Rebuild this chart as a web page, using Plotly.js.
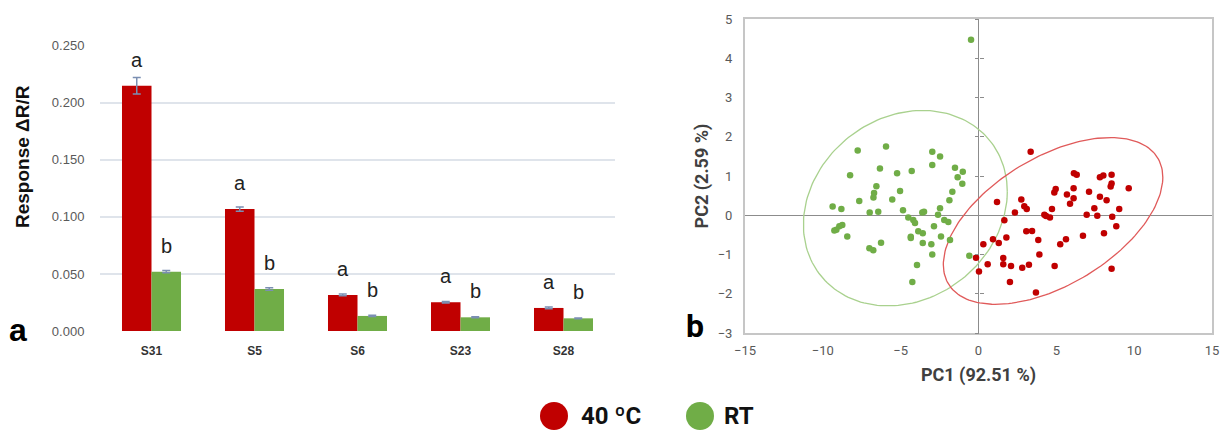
<!DOCTYPE html>
<html>
<head>
<meta charset="utf-8">
<script src="https://cdn.plot.ly/plotly-3.0.1.min.js"></script>
<style>html,body{margin:0;padding:0;background:#fff;}#chart{width:1227px;height:430px;}</style>
</head>
<body>
<div id="chart"></div>
<script>
// ---------- Panel a: bar chart data ----------
const sensors = ['S31', 'S5', 'S6', 'S23', 'S28'];
const resp40C = [0.2149, 0.1068, 0.0316, 0.0252, 0.0202];
const err40C  = [0.0073, 0.0018, 0.0008, 0.0007, 0.0008];
const respRT  = [0.0520, 0.0368, 0.0132, 0.0120, 0.0111];
const errRT   = [0.0010, 0.0012, 0.0005, 0.0004, 0.0004];
const letters40C = ['a', 'a', 'a', 'a', 'a'];
const lettersRT  = ['b', 'b', 'b', 'b', 'b'];
const yTicksA = [0, 0.05, 0.10, 0.15, 0.20, 0.25];

// ---------- Panel b: PCA scores ----------
const pc1_40C = [3.35, 6.13, 6.31, 7.80, 8.02, 8.55, 8.55, 8.49, 9.65, 4.96, 4.87, 6.11, 5.68, 7.10, 7.80, 8.23, 6.11, 5.88, 2.75, 1.19,
                 2.94, 3.10, 2.34, 4.72, 4.23, 4.34, 4.59, 7.44, 9.04, 6.95, 7.63, 8.59, 8.85, 8.06, 6.71, 5.62, 5.25, 1.66, 3.07, 3.44,
                 3.84, 3.91, 1.79, 0.93, 1.30, 0.31, -0.16, 1.59, 1.59, 0.59, 2.09, 2.81, 3.24, 4.89, 8.55, 0.03, 2.02, 3.69];
const pc2_40C = [1.62, 1.07, 1.03, 0.97, 1.01, 1.03, 0.81, 0.73, 0.69, 0.67, 0.58, 0.69, 0.53, 0.60, 0.47, 0.38, 0.43, 0.29, 0.40, 0.34,
                 0.23, 0.16, 0.07, 0.16, 0.01, -0.02, -0.06, 0.18, 0.16, 0.01, -0.01, -0.04, -0.28, -0.46, -0.52, -0.61, -0.74, -0.13, -0.41, -0.40,
                 -0.63, -1.00, -0.57, -0.61, -0.71, -0.74, -1.08, -1.09, -1.25, -1.25, -1.29, -1.34, -1.26, -1.29, -1.36, -1.43, -1.70, -1.97];
const pc1_RT = [-7.76, -5.94, -2.97, -2.47, -2.97, -1.51, -1.01, -1.34, -1.04, -8.25, -6.33, -5.23, -4.29, -6.56, -6.71, -6.75, -5.04, -1.68, -1.87, -7.66,
                -5.54, -9.37, -8.81, -6.99, -6.44, -4.85, -3.61, -3.50, -2.47, -2.60, -4.51, -4.19, -4.08, -2.20, -1.94, -2.86, -8.75, -8.94, -9.13, -9.26,
                -8.43, -3.87, -3.58, -4.35, -4.35, -2.41, -1.83, -6.26, -3.58, -3.03, -7.01, -6.76, -2.97, -0.59, -3.95, -4.25, -0.48];
const pc2_RT = [1.65, 1.75, 1.62, 1.50, 1.28, 1.21, 1.11, 0.97, 0.80, 1.02, 1.19, 1.07, 1.13, 0.74, 0.57, 0.45, 0.62, 0.60, 0.38, 0.36,
                0.40, 0.22, 0.16, 0.07, 0.09, 0.13, 0.07, 0.09, 0.18, 0.01, -0.06, -0.12, -0.20, -0.12, -0.17, -0.28, -0.25, -0.28, -0.37, -0.39,
                -0.54, -0.41, -0.46, -0.55, -0.58, -0.54, -0.63, -0.70, -0.71, -0.74, -0.84, -0.89, -1.00, -1.03, -1.27, -1.70, 4.47];
// confidence ellipses: [center PC1, center PC2], [semi-axis PC1, semi-axis PC2], skew
const ellCenter40C = [4.79, -0.145], ellSemi40C = [7.05, 2.125], ellSkew40C = 0.55;
const ellCenterRT  = [-4.70, 0.18],  ellSemiRT  = [6.55, 2.49],  ellSkewRT  = 0.17;
const seriesNames = ['40 ºC', 'RT'];

const RED = '#c00000', GREEN = '#70ad47';
const W = 1227, H = 430;
const px = v => v / W, py = v => 1 - v / H;

function ellipse(c, s, phi) {
  const xs = [], ys = [];
  for (let i = 0; i <= 180; i++) {
    const t = i / 180 * 2 * Math.PI;
    xs.push(c[0] + s[0] * Math.cos(t));
    ys.push(c[1] + s[1] * Math.sin(t + phi));
  }
  return {xs, ys};
}
const eR = ellipse(ellCenter40C, ellSemi40C, ellSkew40C);
const eG = ellipse(ellCenterRT, ellSemiRT, ellSkewRT);

const errStyle = {type: 'data', visible: true, color: '#7b8fb2', thickness: 1.5, width: 4};
const traces = [
  {type: 'bar', name: seriesNames[0], x: sensors, y: resp40C, xaxis: 'x', yaxis: 'y',
   marker: {color: RED}, error_y: Object.assign({array: err40C}, errStyle), showlegend: false},
  {type: 'bar', name: seriesNames[1], x: sensors, y: respRT, xaxis: 'x', yaxis: 'y',
   marker: {color: GREEN}, error_y: Object.assign({array: errRT}, errStyle), showlegend: false},
  {type: 'scatter', mode: 'lines', x: eG.xs, y: eG.ys, xaxis: 'x2', yaxis: 'y2',
   line: {color: '#a9d18e', width: 1.3}, showlegend: false, hoverinfo: 'skip'},
  {type: 'scatter', mode: 'lines', x: eR.xs, y: eR.ys, xaxis: 'x2', yaxis: 'y2',
   line: {color: '#e05a5a', width: 1.3}, showlegend: false, hoverinfo: 'skip'},
  {type: 'scatter', mode: 'markers', name: seriesNames[1], x: pc1_RT, y: pc2_RT, xaxis: 'x2', yaxis: 'y2',
   marker: {color: GREEN, size: 6.5}, showlegend: false},
  {type: 'scatter', mode: 'markers', name: seriesNames[0], x: pc1_40C, y: pc2_40C, xaxis: 'x2', yaxis: 'y2',
   marker: {color: RED, size: 6.5}, showlegend: false},
  // carriers for the crosshair tick axes
  {type: 'scatter', x: [], y: [], xaxis: 'x2', yaxis: 'y3', showlegend: false},
  {type: 'scatter', x: [], y: [], xaxis: 'x2', yaxis: 'y4', showlegend: false}
];

const annotations = [];
sensors.forEach((s, i) => {
  annotations.push({xref: 'x', yref: 'y', x: i - 0.143, y: resp40C[i], text: letters40C[i], showarrow: false,
    yanchor: 'middle', yshift: 26, font: {family: 'Liberation Sans', size: 20, color: '#222'}});
  annotations.push({xref: 'x', yref: 'y', x: i + 0.143, y: respRT[i], text: lettersRT[i], showarrow: false,
    yanchor: 'middle', yshift: 26, font: {family: 'Liberation Sans', size: 20, color: '#222'}});
});
annotations.push(
  {xref: 'paper', yref: 'paper', x: px(22), y: py(157), text: '<b>Response ΔR/R</b>', textangle: -90, showarrow: false,
   xanchor: 'center', yanchor: 'middle', font: {family: 'Liberation Sans', size: 19, color: '#111'}},
  {xref: 'paper', yref: 'paper', x: px(18), y: py(330), text: '<b>a</b>', showarrow: false,
   xanchor: 'center', yanchor: 'middle', font: {family: 'Liberation Sans', size: 32, color: '#000'}},
  {xref: 'paper', yref: 'paper', x: px(695), y: py(326), text: '<b>b</b>', showarrow: false,
   xanchor: 'center', yanchor: 'middle', font: {family: 'Roboto', size: 32, color: '#000'}},
  {xref: 'paper', yref: 'paper', x: px(579), y: py(416), text: '<b>' + seriesNames[0] + '</b>', showarrow: false,
   xanchor: 'left', yanchor: 'middle', font: {family: 'Roboto', size: 24, color: '#111'}},
  {xref: 'paper', yref: 'paper', x: px(722), y: py(416), text: '<b>' + seriesNames[1] + '</b>', showarrow: false,
   xanchor: 'left', yanchor: 'middle', font: {family: 'Roboto', size: 24, color: '#111'}}
);

const shapes = [
  {type: 'circle', xref: 'paper', yref: 'paper', x0: px(540), x1: px(568), y0: py(430), y1: py(402),
   fillcolor: RED, line: {width: 0}},
  {type: 'circle', xref: 'paper', yref: 'paper', x0: px(686), x1: px(714), y0: py(430), y1: py(402),
   fillcolor: GREEN, line: {width: 0}}
];

const xb0 = px(745), xb1 = px(1212);
const zeroPos = xb0 + (xb1 - xb0) * 0.5;
const tickAxis = (side) => ({overlaying: 'y2', anchor: 'free', position: zeroPos, domain: [py(333), py(19)],
  range: [-3, 5], dtick: 1, tick0: 0, showgrid: false, zeroline: false, showline: false, showticklabels: false,
  ticks: side, ticklen: 4, tickwidth: 1, tickcolor: '#8c8c8c', automargin: false, fixedrange: true});

const layout = {
  width: W, height: H,
  margin: {l: 0, r: 0, t: 0, b: 0},
  paper_bgcolor: '#fff', plot_bgcolor: 'rgba(0,0,0,0)',
  showlegend: false,
  barmode: 'group', bargap: 0.427, bargroupgap: 0,
  font: {family: 'Liberation Sans', color: '#595959'},
  xaxis: {domain: [px(100), px(615)], anchor: 'y', showgrid: false, zeroline: false, showline: false,
    ticks: 'outside', ticklen: 9, tickcolor: 'rgba(0,0,0,0)',
    tickfont: {family: 'Liberation Sans', size: 12, color: '#333'}, tickprefix: '<b>', ticksuffix: '</b>',
    automargin: false, fixedrange: true},
  yaxis: {domain: [py(331), py(45.7)], anchor: 'x', range: [0, 0.25], tickvals: yTicksA, tickformat: '.3f',
    showgrid: true, gridcolor: '#dfe4eb', gridwidth: 1.6, zeroline: false, showline: false,
    ticks: 'outside', ticklen: 12, tickcolor: 'rgba(0,0,0,0)',
    tickfont: {family: 'Liberation Sans', size: 13, color: '#595959'}, automargin: false, fixedrange: true},
  xaxis2: {domain: [xb0, xb1], anchor: 'y2', range: [-15, 15], dtick: 5, tick0: 0,
    showgrid: false, zeroline: true, zerolinecolor: '#8c8c8c', zerolinewidth: 1,
    showline: true, mirror: true, linecolor: '#c6c6c6', linewidth: 2,
    ticks: 'outside', ticklen: 4, tickcolor: 'rgba(0,0,0,0)',
    tickfont: {family: 'Roboto', size: 13, color: '#595959'},
    title: {text: '<b>PC1 (92.51 %)</b>', font: {family: 'Roboto', size: 18, color: '#404040'}, standoff: 12},
    automargin: false, fixedrange: true},
  yaxis2: {domain: [py(333), py(19)], anchor: 'x2', range: [-3, 5], dtick: 1, tick0: 0,
    showgrid: false, zeroline: true, zerolinecolor: '#8c8c8c', zerolinewidth: 1,
    showline: true, mirror: true, linecolor: '#c6c6c6', linewidth: 2,
    ticks: 'outside', ticklen: 8, tickcolor: 'rgba(0,0,0,0)',
    tickfont: {family: 'Roboto', size: 13, color: '#595959'},
    title: {text: '<b>PC2 (2.59 %)</b>', font: {family: 'Roboto', size: 18, color: '#404040'}, standoff: 4},
    automargin: false, fixedrange: true},
  yaxis3: tickAxis('outside'),
  yaxis4: tickAxis('inside'),
  annotations: annotations,
  shapes: shapes
};

Plotly.newPlot('chart', traces, layout, {displayModeBar: false, staticPlot: true});
</script>
</body>
</html>
